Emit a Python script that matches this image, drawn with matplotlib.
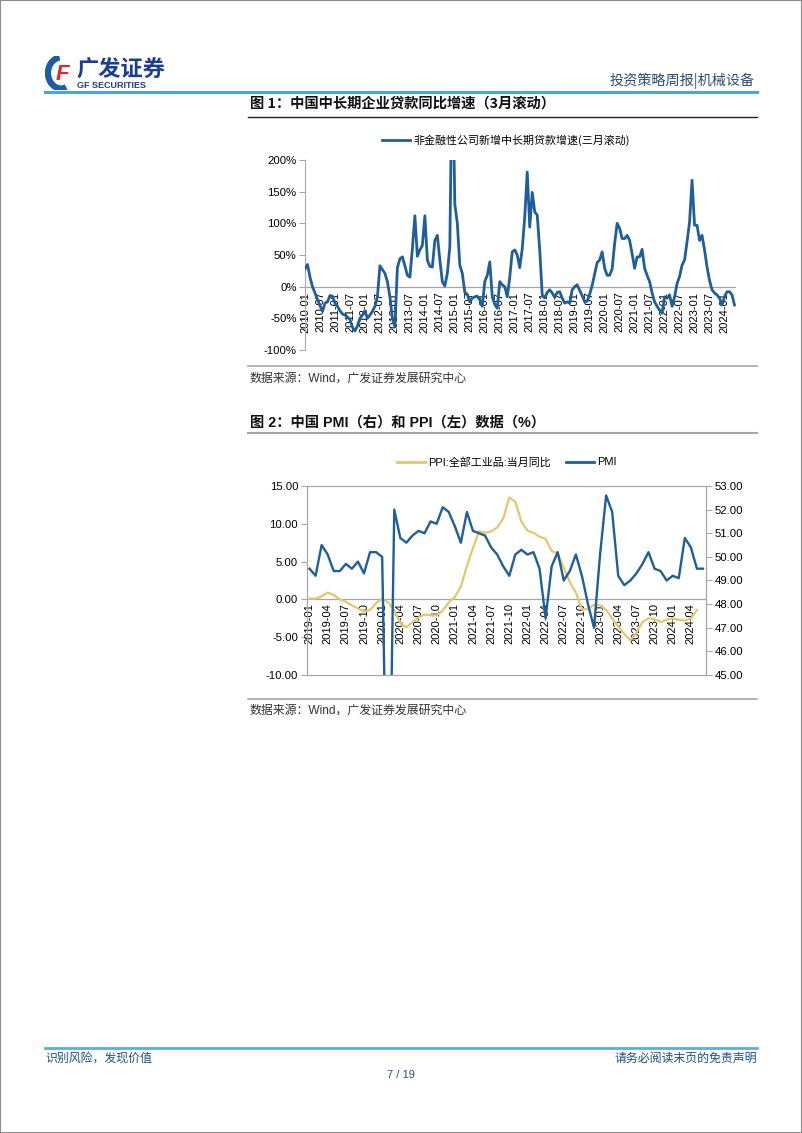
#Weekly report page: long-term loan growth + PMI/PPI charts
import numpy as np
import pandas as pd
import matplotlib
matplotlib.use('Agg')
from matplotlib import pyplot as plt
from matplotlib.lines import Line2D
from matplotlib.patches import Rectangle, Arc
from matplotlib.transforms import offset_copy

#chart 1 data: 非金融性公司新增中长期贷款增速(三月滚动), monthly 2010-01 .. 2024-05, in %
loan_months = pd.date_range('2010-01-01', periods=173, freq='MS').strftime('%Y-%m').tolist()
loan_growth = [28, 35, 15, 0, -10, -20, -30, -39, -26, -24,
               -14, -15, -26, -31, -38, -43, -45, -48, -52, -64,
               -70, -62, -50, -45, -38, -50, -45, -39, -31, -16,
               33, 27, 21, 8, -16, -50, -63, 30, 44, 47,
               33, 18, 15, 60, 112, 48, 58, 65, 112, 42,
               32, 31, 73, 81, 42, 8, 1, 21, 63, 380,
               130, 100, 34, 21, -9, -12, -24, -18, -16, -15,
               -21, -31, 8, 18, 39, -16, -28, -34, 8, 3,
               0, -16, 15, 55, 58, 50, 30, 60, 110, 181,
               94, 149, 118, 113, 58, -13, -18, -9, -5, -10,
               -17, -9, -8, -18, -26, -24, -26, -5, 0, 3,
               -6, -14, -24, -23, -12, 2, 20, 38, 42, 55,
               29, 18, 18, 28, 68, 100, 92, 76, 76, 81,
               73, 52, 29, 47, 47, 59, 29, 18, 8, -10,
               -24, -31, -37, -42, -16, -18, -13, -31, -16, 5,
               16, 34, 42, 71, 102, 168, 97, 97, 73, 81,
               58, 31, 10, -5, -10, -13, -18, -29, -16, -8,
               -8, -13, -29]
loan_ticks = list(range(-100, 201, 50))

#chart 2 data: PPI (left, %) and PMI (right), monthly from 2019-01
pmi_months = pd.date_range('2019-01-01', periods=66, freq='MS').strftime('%Y-%m').tolist()
ppi = [0.1, 0.1, 0.4, 0.9, 0.6, 0.0, -0.3, -0.8, -1.2, -1.6, -1.4, -0.5,
       0.1, -0.4, -1.5, -3.1, -3.7, -3.0, -2.4, -2.0, -2.1, -2.1, -1.5, -0.4,
       0.3, 1.7, 4.4, 6.8, 9.0, 8.8, 9.0, 9.5, 10.7, 13.5, 12.9, 10.3,
       9.1, 8.8, 8.3, 8.0, 6.4, 6.1, 4.2, 2.3, 0.9, -1.3, -1.3, -0.7,
       -0.8, -1.4, -2.5, -3.6, -4.6, -5.4, -4.4, -3.0, -2.5, -2.6, -3.0, -2.7,
       -2.5, -2.7, -2.8, -2.5, -1.4]
pmi = [49.5, 49.2, 50.5, 50.1, 49.4, 49.4, 49.7, 49.5, 49.8, 49.3, 50.2, 50.2,
       50.0, 35.7, 52.0, 50.8, 50.6, 50.9, 51.1, 51.0, 51.5, 51.4, 52.1, 51.9,
       51.3, 50.6, 51.9, 51.1, 51.0, 50.9, 50.4, 50.1, 49.6, 49.2, 50.1, 50.3,
       50.1, 50.2, 49.5, 47.4, 49.6, 50.2, 49.0, 49.4, 50.1, 49.2, 48.0, 47.0,
       50.1, 52.6, 51.9, 49.2, 48.8, 49.0, 49.3, 49.7, 50.2, 49.5, 49.4, 49.0,
       49.2, 49.1, 50.8, 50.4, 49.5, 49.5]
ppi_ticks = list(range(-10, 16, 5))
pmi_ticks = list(range(45, 54, 1))

W, H = 802, 1133
CJK = ['Noto Sans CJK SC', 'DejaVu Sans']
LAT = ['Liberation Sans', 'Noto Sans CJK SC', 'DejaVu Sans']
BLUE = '#1F5F99'
GOLD = '#E6C66C'
GRID = '#A6A6A6'
NAVY = '#2B4A7D'

def fx(x):
  return x / W

def fy(y):
  return 1 - y / H

fig = plt.figure(figsize=(W / 100, H / 100), dpi=100)

def hline(x0, x1, y, color, lw):
  fig.add_artist(Line2D([fx(x0), fx(x1)], [fy(y), fy(y)], color=color, lw=lw))

#page border
fig.add_artist(Rectangle((0, 0), 1, 1, transform=fig.transFigure, fill=False, ec='#8C8C8C', lw=1.5))

#---- header with logo ----
logo = fig.add_axes([fx(45), fy(90), 30 / W, 34 / H])
logo.set_xlim(0, 30)
logo.set_ylim(0, 34)
logo.axis('off')
logo.add_patch(Arc((16, 17), 26, 31, theta1=95, theta2=290, color='#1E5BA8', lw=4.5))
logo.text(17, 16, 'F', color='#E0282E', fontsize=16, fontweight='bold', style='italic',
          ha='center', va='center', family=LAT)
fig.text(fx(76), fy(70), '广发证券', fontsize=16, fontweight='bold', color='#1D3E8C',
         va='center', ha='left', family=CJK)
fig.text(fx(77), fy(86), 'GF SECURITIES', fontsize=6.5, fontweight='bold', color='#1D3E8C',
         va='center', ha='left', family=LAT)
fig.text(fx(755), fy(81), '投资策略周报|机械设备', fontsize=10.2, color=NAVY,
         va='center', ha='right', family=CJK)
hline(45, 757, 92, '#4BA6D6', 2.2)

#---- chart 1 ----
fig.text(fx(250), fy(104), '图 1：中国中长期企业贷款同比增速（3月滚动）', fontsize=10.3,
         fontweight='bold', va='center', ha='left', family=CJK, color='#111111')
hline(248, 757, 117, '#222222', 1.0)

ax1 = fig.add_axes([fx(305), fy(350), (736 - 305) / W, 190 / H])
x1 = np.arange(len(loan_growth))
ax1.plot(x1, loan_growth, color=BLUE, lw=2.0, zorder=3, solid_joinstyle='round')
ax1.axhline(0, color=GRID, lw=0.9, zorder=1)
ax1.set_xlim(0, 172.6)
ax1.set_ylim(-100, 200)
ax1.set_yticks(loan_ticks)
ax1.set_yticklabels([f'{v}%' for v in loan_ticks], family=LAT, fontsize=8.2)
ax1.set_xticks([])
for s in ['top', 'right', 'bottom']:
  ax1.spines[s].set_visible(False)
ax1.spines['left'].set_color(GRID)
ax1.tick_params(axis='y', length=4, color=GRID, pad=2)
ax1.set_facecolor('none')
lab_tr1 = offset_copy(ax1.transData, fig=fig, y=-5, units='dots')
for i in range(0, len(loan_months), 6):
  ax1.text(i, 0, loan_months[i], rotation=90, ha='center', va='top', fontsize=8,
           family=LAT, transform=lab_tr1, zorder=2)

h1 = Line2D([], [], color=BLUE, lw=2)
fig.legend([h1], ['非金融性公司新增中长期贷款增速(三月滚动)'], loc='center',
           bbox_to_anchor=(fx(506), fy(140)), frameon=False,
           prop={'family': CJK, 'size': 7.9}, handlelength=2.5, handletextpad=0.3)

hline(248, 757, 366, GRID, 1.2)
fig.text(fx(250), fy(379), '数据来源：Wind，广发证券发展研究中心', fontsize=8.6,
         color='#333333', va='center', ha='left', family=LAT)

#---- chart 2 ----
fig.text(fx(250), fy(423), '图 2：中国 PMI（右）和 PPI（左）数据（%）', fontsize=10.3,
         fontweight='bold', va='center', ha='left', family=LAT, color='#111111')
hline(248, 757, 433, GRID, 1.5)

ax2 = fig.add_axes([fx(306.5), fy(675), (706 - 306.5) / W, 189 / H])
x2 = np.arange(len(ppi))
ax2.plot(x2, ppi, color=GOLD, lw=1.6, zorder=3)
ax2.axhline(0, color=GRID, lw=0.9, zorder=1)
ax2.set_xlim(-0.5, 65.5)
ax2.set_ylim(-10, 15)
ax2.set_yticks(ppi_ticks)
ax2.set_yticklabels([f'{v:.2f}' for v in ppi_ticks], family=LAT, fontsize=8.2)
ax2.set_xticks([])
for s in ax2.spines.values():
  s.set_color(GRID)
ax2.tick_params(axis='y', length=4, color=GRID, pad=2)
lab_tr2 = offset_copy(ax2.transData, fig=fig, y=-4, units='dots')
for i in range(0, 64, 3):
  ax2.text(i, 0, pmi_months[i], rotation=90, ha='center', va='top', fontsize=8,
           family=LAT, transform=lab_tr2, zorder=2)

ax2r = ax2.twinx()
ax2r.plot(np.arange(len(pmi)), pmi, color=BLUE, lw=1.7, zorder=3)
ax2r.set_ylim(45, 53)
ax2r.set_yticks(pmi_ticks)
ax2r.set_yticklabels([f'{v:.2f}' for v in pmi_ticks], family=LAT, fontsize=8.2)
for s in ax2r.spines.values():
  s.set_color(GRID)
ax2r.tick_params(axis='y', length=4, color=GRID, pad=2)

h_ppi = Line2D([], [], color=GOLD, lw=2)
h_pmi = Line2D([], [], color=BLUE, lw=2)
fig.legend([h_ppi, h_pmi], ['PPI:全部工业品:当月同比', 'PMI'], loc='center', ncol=2,
           bbox_to_anchor=(fx(507), fy(462)), frameon=False,
           prop={'family': LAT, 'size': 7.9}, handlelength=2.5, handletextpad=0.3,
           columnspacing=1.4)

hline(248, 757, 699, GRID, 1.2)
fig.text(fx(250), fy(711), '数据来源：Wind，广发证券发展研究中心', fontsize=8.6,
         color='#333333', va='center', ha='left', family=LAT)

#---- footer ----
hline(45, 757, 1048, '#5BB0DB', 2.0)
fig.text(fx(45), fy(1058), '识别风险，发现价值', fontsize=8.6, color='#1F4E8C',
         va='center', ha='left', family=CJK)
fig.text(fx(757), fy(1058), '请务必阅读末页的免责声明', fontsize=8.6, color='#1F4E8C',
         va='center', ha='right', family=CJK)
fig.text(0.5, fy(1075), '7 / 19', fontsize=8, color='#1F4E8C', va='center', ha='center',
         family=LAT)

fig.savefig('out.png', dpi=100)
